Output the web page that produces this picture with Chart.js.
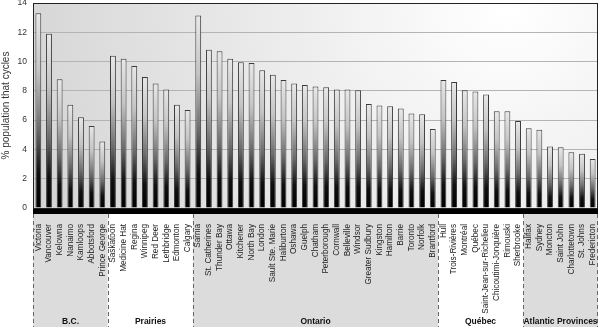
<!DOCTYPE html>
<html>
<head>
<meta charset="utf-8">
<script src="https://cdn.jsdelivr.net/npm/chart.js@4.4.0/dist/chart.umd.min.js"></script>
<style>
  html, body { margin: 0; padding: 0; background: #fff; }
  #wrap { width: 600px; height: 327px; position: relative; }
</style>
</head>
<body>
<div id="wrap"><canvas id="cyclingChart"></canvas></div>
<script>
// cities, in the order of the chart
const cities = [
    'Victoria', 'Vancouver', 'Kelowna', 'Nanaimo', 'Kamloops', 'Abbotsford', 'Prince George',
    'Saskatoon', 'Medicine Hat', 'Regina', 'Winnipeg', 'Red Deer', 'Lethbridge', 'Edmonton', 'Calgary',
    'Sarnia', 'St. Catherines', 'Thunder Bay', 'Ottawa', 'Kitchener', 'North Bay', 'London',
    'Sault Ste. Marie', 'Haliburton', 'Oshawa', 'Guelph', 'Chatham', 'Peterborough', 'Cornwall',
    'Belleville', 'Windsor', 'Greater Sudbury', 'Kingston', 'Hamilton', 'Barrie', 'Toronto',
    'Norfolk', 'Brantford',
    'Hull', 'Trois-Rivières', 'Montréal', 'Québec', 'Saint-Jean-sur-Richelieu',
    'Chicoutimi-Jonquière', 'Rimouski', 'Sherbrooke',
    'Halifax', 'Sydney', 'Moncton', 'Saint John', 'Charlottetown', 'St. Johns', 'Fredericton'
];

// % of population that cycles
const shares = [
    13.3, 11.9, 8.8, 7.05, 6.2, 5.6, 4.55,
    10.4, 10.2, 9.7, 8.95, 8.5, 8.1, 7.05, 6.7,
    13.15, 10.8, 10.7, 10.2, 9.95, 9.9, 9.4, 9.1, 8.75, 8.5, 8.4, 8.3, 8.25, 8.1,
    8.1, 8.05, 7.1, 7.0, 6.95, 6.8, 6.45, 6.4, 5.4,
    8.75, 8.6, 8.05, 7.95, 7.75, 6.6, 6.6, 5.95,
    5.45, 5.35, 4.2, 4.15, 3.8, 3.7, 3.35
];

// regions and how many cities fall in each
const regions = ['B.C.', 'Prairies', 'Ontario', 'Québec', 'Atlantic Provinces'];
const regionCounts = [7, 8, 23, 8, 7];

const yMin = 0;
const yMax = 14;
const yStep = 2;

const FONT = 'Liberation Sans, Arial, sans-serif';

// background, region bands, base strip and frame
const regionPlugin = {
    id: 'regionBands',
    beforeDraw(chart) {
        const { ctx, chartArea: a, scales: { x } } = chart;
        ctx.save();
        const bg = ctx.createRadialGradient(a.right - 90, a.top + 5, 5, a.right - 90, a.top + 5, 560);
        bg.addColorStop(0, '#ffffff');
        bg.addColorStop(1, '#d0d0d0');
        ctx.fillStyle = bg;
        ctx.fillRect(a.left, a.top, a.width, a.height);

        const half = (x.getPixelForValue(1) - x.getPixelForValue(0)) / 2;
        const top = a.bottom + 6;
        let start = 0;
        regionCounts.forEach((n, i) => {
            const x0 = x.getPixelForValue(start) - half;
            const x1 = x.getPixelForValue(start + n - 1) + half;
            if (i % 2 === 0) {
                ctx.fillStyle = '#dcdcdc';
                ctx.fillRect(x0, top, x1 - x0, chart.height - top);
            }
            start += n;
        });
        ctx.restore();
    },
    afterDatasetsDraw(chart) {
        const { ctx, chartArea: a } = chart;
        ctx.save();
        ctx.fillStyle = '#000';
        ctx.fillRect(a.left, a.bottom, a.width, 6);
        ctx.strokeStyle = '#222';
        ctx.lineWidth = 1;
        ctx.strokeRect(a.left + 0.5, a.top + 0.5, a.width - 1, a.height);
        ctx.restore();
    },
    afterDraw(chart) {
        const { ctx, chartArea: a, scales: { x } } = chart;
        const half = (x.getPixelForValue(1) - x.getPixelForValue(0)) / 2;
        const top = a.bottom + 6;
        ctx.save();
        ctx.strokeStyle = '#666';
        ctx.lineWidth = 1;
        ctx.setLineDash([4, 3]);
        ctx.fillStyle = '#111';
        ctx.font = 'bold 8.5px ' + FONT;
        ctx.textAlign = 'center';
        ctx.textBaseline = 'alphabetic';
        let start = 0;
        regionCounts.forEach((n, i) => {
            const x0 = Math.round(x.getPixelForValue(start) - half) + 0.5;
            const x1 = Math.round(x.getPixelForValue(start + n - 1) + half) - 0.5;
            ctx.beginPath();
            ctx.moveTo(x0, top);
            ctx.lineTo(x0, chart.height);
            if (i === regionCounts.length - 1) {
                ctx.moveTo(x1, top);
                ctx.lineTo(x1, chart.height);
            }
            ctx.stroke();
            ctx.fillText(regions[i], (x0 + x1) / 2, chart.height - 3);
            start += n;
        });
        ctx.restore();
    }
};

function barFill(context) {
    const chart = context.chart;
    const a = chart.chartArea;
    if (!a || context.type !== 'data') return '#888';
    const y = chart.scales.y;
    const top = y.getPixelForValue(context.raw);
    const base = y.getPixelForValue(0);
    const g = chart.ctx.createLinearGradient(0, top, 0, base);
    g.addColorStop(0, '#e8e8e8');
    g.addColorStop(0.3, '#c4c4c4');
    g.addColorStop(0.6, '#6a6a6a');
    g.addColorStop(0.82, '#101010');
    g.addColorStop(1, '#000');
    return g;
}

new Chart(document.getElementById('cyclingChart'), {
    type: 'bar',
    data: {
        labels: cities,
        datasets: [{
            data: shares,
            backgroundColor: barFill,
            borderColor: '#3a3a3a',
            borderWidth: 1,
            barPercentage: 0.55,
            categoryPercentage: 1
        }]
    },
    options: {
        responsive: true,
        maintainAspectRatio: false,
        animation: false,
        layout: { padding: { top: 3, right: 2, left: 0, bottom: 0 } },
        plugins: {
            legend: { display: false },
            tooltip: { enabled: false }
        },
        scales: {
            x: {
                grid: { display: false },
                border: { display: false },
                ticks: {
                    autoSkip: false,
                    minRotation: 90,
                    maxRotation: 90,
                    padding: 8,
                    color: '#222',
                    font: { family: FONT, size: 8.2 }
                },
                afterFit: scale => {
                    scale.height = 119;
                    scale.paddingTop = 0;
                    scale.paddingBottom = 0;
                    scale.paddingLeft = 0;
                    scale.paddingRight = 0;
                }
            },
            y: {
                min: yMin,
                max: yMax,
                grid: { color: '#b4b4b4', drawTicks: false },
                border: { color: '#222' },
                ticks: {
                    stepSize: yStep,
                    padding: 6,
                    color: '#333',
                    font: { family: FONT, size: 8.5 }
                },
                title: {
                    display: true,
                    text: '% population that cycles',
                    color: '#333',
                    padding: { top: 0, bottom: 0 },
                    font: { family: FONT, size: 10 }
                },
                afterFit: scale => {
                    scale.width = 33;
                    scale.paddingTop = 0;
                    scale.paddingBottom = 0;
                }
            }
        }
    },
    plugins: [regionPlugin]
});
</script>
</body>
</html>
